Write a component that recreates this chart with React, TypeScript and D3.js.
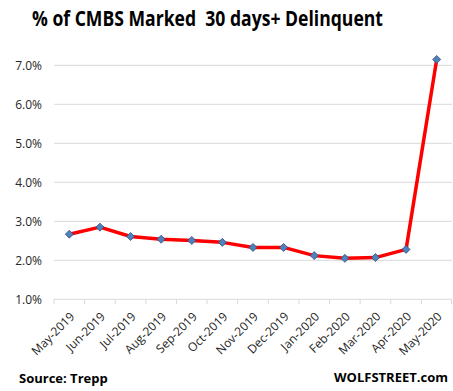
import React from "react";
import * as d3 from "d3";

const categories = ["May-2019","Jun-2019","Jul-2019","Aug-2019","Sep-2019","Oct-2019","Nov-2019","Dec-2019","Jan-2020","Feb-2020","Mar-2020","Apr-2020","May-2020"];
const values = [2.67, 2.85, 2.61, 2.54, 2.51, 2.46, 2.33, 2.33, 2.12, 2.05, 2.07, 2.28, 7.15];
const yTicks = [1, 2, 3, 4, 5, 6, 7];

const W = 453, H = 391;
const left = 54, right = 452, top = 65.3, bottom = 299.3;

export default function App() {
  const x = d3.scaleBand<string>().domain(categories).range([left, right]);
  const y = d3.scaleLinear().domain([1, 7]).range([bottom, top]);
  const line = d3.line<number>()
    .x((_, i) => (x(categories[i]) as number) + x.bandwidth() / 2)
    .y(d => y(d));
  const font = "'Open Sans', 'DejaVu Sans', sans-serif";
  return (
    <svg width={W} height={H} style={{ position: "absolute", left: 0, top: 0, background: "#fff" }} fontFamily={font}>
      <rect width={W} height={H} fill="#fff" />
      <text x={32} y={25.5} fontSize={21} fontWeight="bold" fill="#000" textLength={351} lengthAdjust="spacingAndGlyphs" style={{ whiteSpace: "pre" }}>% of CMBS Marked  30 days+ Delinquent</text>
      {yTicks.map(t => (
        <g key={t}>
          <line x1={left} x2={right} y1={y(t)} y2={y(t)} stroke="#d9d9d9" strokeWidth={1} />
          <text x={42} y={y(t)} dy="0.35em" textAnchor="end" fontSize={12} fill="#262626">{t.toFixed(1) + "%"}</text>
        </g>
      ))}
      {categories.map((c, i) => (
        <line key={"t" + i} x1={x(c) as number} x2={x(c) as number} y1={bottom} y2={bottom + 5} stroke="#d9d9d9" />
      ))}
      <line x1={right - 0.5} x2={right - 0.5} y1={bottom} y2={bottom + 5} stroke="#d9d9d9" />
      {categories.map((c, i) => {
        const cx = (x(c) as number) + x.bandwidth() / 2 + 3;
        const cy = bottom + 15;
        return (
          <text key={"l" + i} transform={`translate(${cx},${cy}) rotate(-45)`} textAnchor="end" dy="0.35em" fontSize={12} fill="#262626">{c}</text>
        );
      })}
      <path d={line(values) || ""} fill="none" stroke="#ff0000" strokeWidth={3.5} strokeLinejoin="round" />
      {values.map((v, i) => {
        const cx = (x(categories[i]) as number) + x.bandwidth() / 2;
        const cy = y(v);
        const s = 4;
        return (
          <path key={"m" + i} d={`M${cx},${cy - s}L${cx + s},${cy}L${cx},${cy + s}L${cx - s},${cy}Z`} fill="#4f81bd" stroke="#2f4f7f" strokeWidth={0.8} />
        );
      })}
      <text x={19} y={383} fontSize={13} fontWeight="bold" fill="#000">Source: Trepp</text>
      <text x={448} y={382} fontSize={13} fontWeight="bold" fill="#000" textAnchor="end">WOLFSTREET.com</text>
    </svg>
  );
}
